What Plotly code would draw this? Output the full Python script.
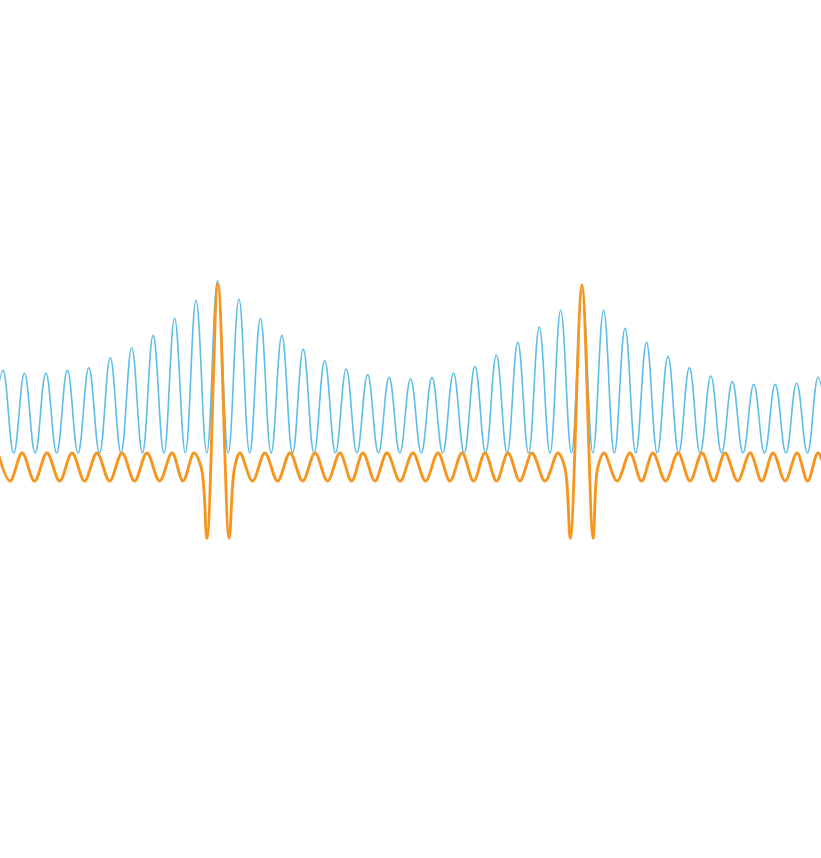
import plotly.graph_objects as go

# Blue series: alternating troughs and peaks (time in cycles, value in units)
blue_t = [-0.5, 0, 0.5, 1, 1.5, 2, 2.5, 3, 3.5, 4, 4.5, 5, 5.5, 6, 6.5, 7, 7.5, 8, 8.5, 9, 9.5,
          10, 10.5, 11, 11.5, 12, 12.5, 13, 13.5, 14, 14.5, 15, 15.5, 16, 16.5, 17, 17.5, 18, 18.5,
          19, 19.5, 20, 20.5, 21, 21.5, 22, 22.5, 23, 23.5, 24, 24.5, 25, 25.5, 26, 26.5, 27, 27.5,
          28, 28.5, 29, 29.5, 30, 30.5, 31, 31.5, 32, 32.5, 33, 33.5, 34, 34.5, 35, 35.5, 36, 36.5,
          37, 37.5, 38, 38.5]
blue_v = [1.0, 6.9, 1.0, 6.7, 1.0, 6.7, 1.0, 6.9, 1.0, 7.1, 1.0, 7.8, 1.0, 8.5, 1.0, 9.4, 1.0,
          10.6, 1.0, 11.9, 1.0, 13.3, 1.0, 12.0, 1.0, 10.6, 1.0, 9.4, 1.0, 8.4, 1.0, 7.6, 1.0,
          7.0, 1.0, 6.6, 1.0, 6.4, 1.0, 6.3, 1.0, 6.4, 1.0, 6.7, 1.0, 7.2, 1.0, 8.0, 1.0, 8.9, 1.0,
          10.0, 1.0, 11.2, 1.0, 12.6, 1.0, 11.2, 1.0, 9.9, 1.0, 8.9, 1.0, 7.9, 1.0, 7.1, 1.0,
          6.5, 1.0, 6.1, 1.0, 5.9, 1.0, 5.9, 1.0, 6.0, 1.0, 6.4, 1.0]

# Orange series: small oscillation with two bursts
orange_t = [-0.23, 0.33, 0.89, 1.47, 2.05, 2.64, 3.22, 3.80, 4.38, 4.97, 5.55, 6.13, 6.71, 7.30,
            7.88, 8.39, 8.90, 9.25, 9.51, 10.02, 10.54, 10.79, 11.05, 11.63, 12.21, 12.80, 13.38,
            13.97, 14.55, 15.13, 15.71, 16.25, 16.78, 17.34, 17.90, 18.51, 19.11, 19.70, 20.28,
            20.84, 21.40, 21.94, 22.47, 23.01, 23.54, 24.10, 24.66, 25.27, 25.87, 26.20, 26.45,
            26.99, 27.51, 27.72, 28.02, 28.63, 29.23, 29.77, 30.30, 30.89, 31.47, 32.03, 32.59,
            33.13, 33.66, 34.25, 34.83, 35.37, 35.90, 36.46, 37.02, 37.51, 38.00, 38.55, 39.10]
orange_v = [1.0, -1.0, 1.0, -1.0, 1.0, -1.0, 1.0, -1.0, 1.0, -1.0, 1.0, -1.0, 1.0, -1.0,
            1.0, -1.0, 1.0, -0.1, -5.1, 13.1, -5.1, -0.1, 1.0, -1.0, 1.0, -1.0, 1.0,
            -1.0, 1.0, -1.0, 1.0, -1.0, 1.0, -1.0, 1.0, -1.0, 1.0, -1.0, 1.0,
            -1.0, 1.0, -1.0, 1.0, -1.0, 1.0, -1.0, 1.0, -1.0, 1.0, -0.1, -5.1,
            13.0, -5.1, -0.1, 1.0, -1.0, 1.0, -1.0, 1.0, -1.0, 1.0, -1.0, 1.0,
            -1.0, 1.0, -1.0, 1.0, -1.0, 1.0, -1.0, 1.0, -1.0, 1.0, -1.0, 1.0]

x_range = [-0.14, 38.135]
y_range = [-27.93, 33.36]

fig = go.Figure()
fig.add_trace(go.Scatter(x=blue_t, y=blue_v, mode="lines",
                         line=dict(color="#5dbde6", width=1.6, shape="spline", smoothing=1.2),
                         hoverinfo="skip"))
fig.add_trace(go.Scatter(x=orange_t, y=orange_v, mode="lines",
                         line=dict(color="#f7961f", width=2.9, shape="spline", smoothing=1.0),
                         hoverinfo="skip"))
fig.update_layout(
    width=821, height=858,
    margin=dict(l=0, r=0, t=0, b=0),
    paper_bgcolor="white", plot_bgcolor="white",
    showlegend=False,
    xaxis=dict(range=x_range, visible=False, showgrid=False, zeroline=False),
    yaxis=dict(range=y_range, visible=False, showgrid=False, zeroline=False),
)
fig.write_html("out.html", config={"displayModeBar": False})
